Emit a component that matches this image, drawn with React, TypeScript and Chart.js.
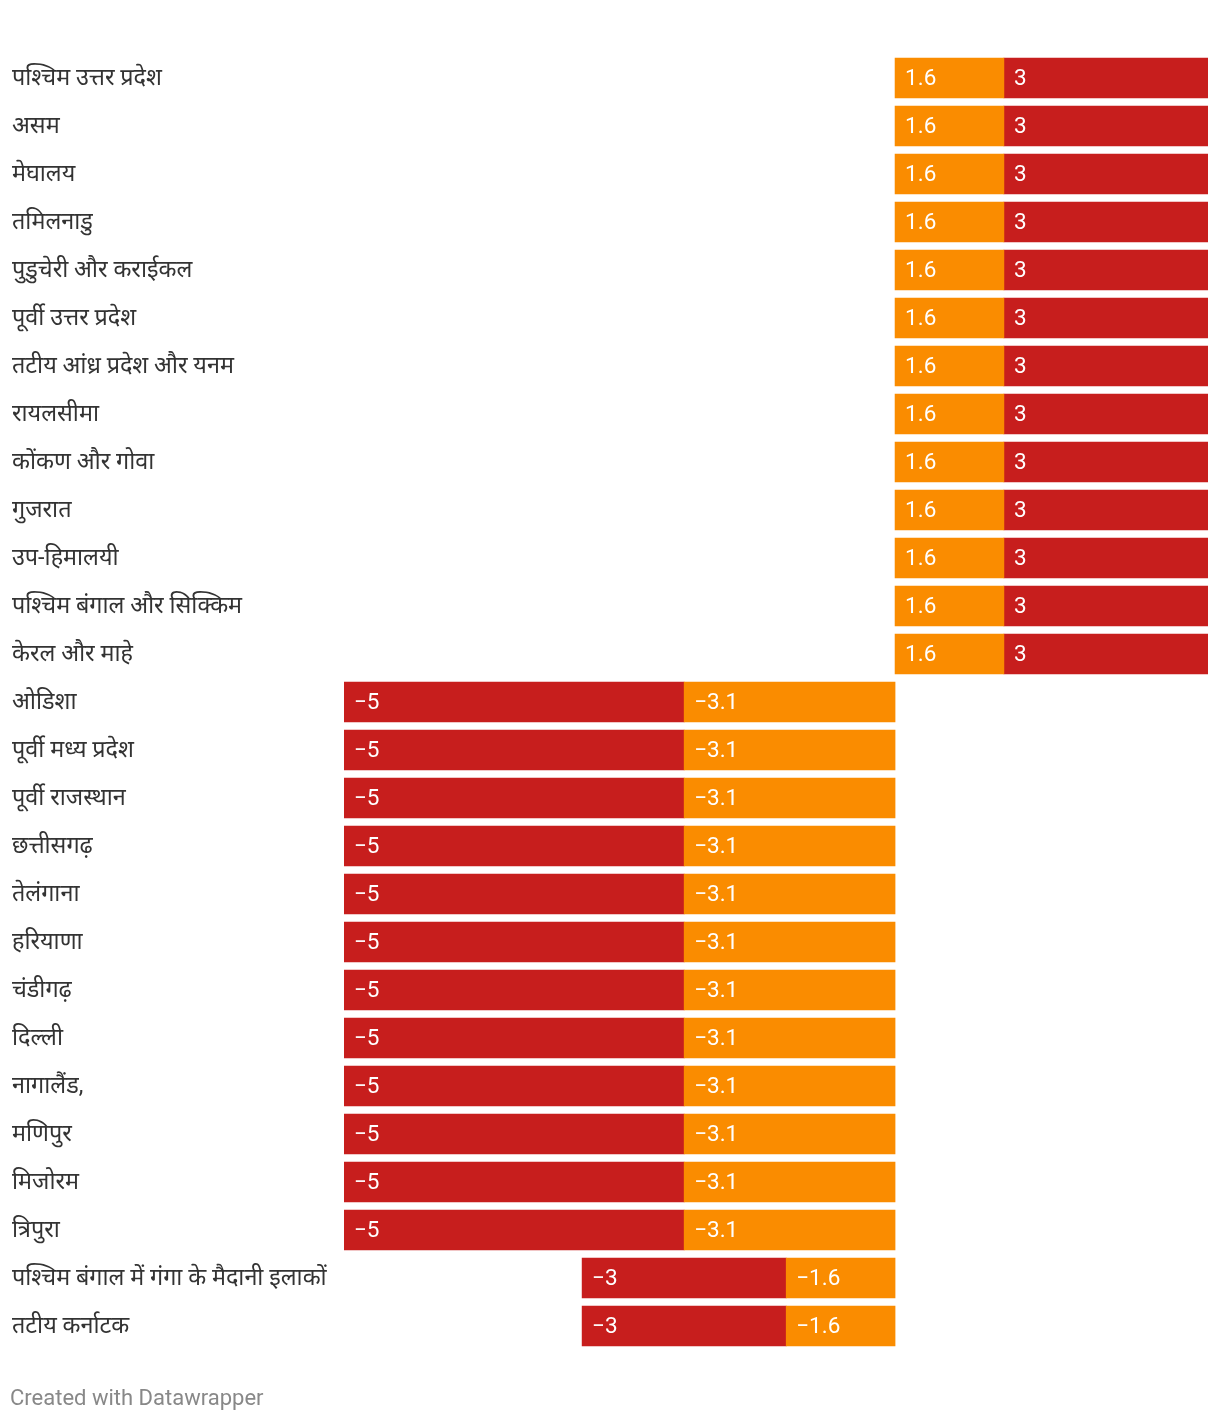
import React, { useEffect, useRef } from "react";
import { Chart, registerables } from "chart.js";

Chart.register(...registerables);

const categories: string[] = [
  "पश्चिम उत्तर प्रदेश",
  "असम",
  "मेघालय",
  "तमिलनाडु",
  "पुडुचेरी और कराईकल",
  "पूर्वी उत्तर प्रदेश",
  "तटीय आंध्र प्रदेश और यनम",
  "रायलसीमा",
  "कोंकण और गोवा",
  "गुजरात",
  "उप-हिमालयी",
  "पश्चिम बंगाल और सिक्किम",
  "केरल और माहे",
  "ओडिशा",
  "पूर्वी मध्य प्रदेश",
  "पूर्वी राजस्थान",
  "छत्तीसगढ़",
  "तेलंगाना",
  "हरियाणा",
  "चंडीगढ़",
  "दिल्ली",
  "नागालैंड,",
  "मणिपुर",
  "मिजोरम",
  "त्रिपुरा",
  "पश्चिम बंगाल में गंगा के मैदानी इलाकों",
  "तटीय कर्नाटक",
];

const orangeValues: number[] = [
  1.6, 1.6, 1.6, 1.6, 1.6, 1.6, 1.6, 1.6, 1.6, 1.6, 1.6, 1.6, 1.6,
  -3.1, -3.1, -3.1, -3.1, -3.1, -3.1, -3.1, -3.1, -3.1, -3.1, -3.1, -3.1,
  -1.6, -1.6,
];

const redValues: number[] = [
  3, 3, 3, 3, 3, 3, 3, 3, 3, 3, 3, 3, 3,
  -5, -5, -5, -5, -5, -5, -5, -5, -5, -5, -5, -5,
  -3, -3,
];

const ORANGE = "#fa8c00";
const RED = "#c71e1d";
const FONT = "Roboto, 'Noto Sans', sans-serif";

function fmt(v: number): string {
  return v < 0 ? "\u2212" + String(Math.abs(v)) : String(v);
}

const labelsPlugin = {
  id: "customLabels",
  afterDatasetsDraw(chart: any) {
    const ctx = chart.ctx;
    const yScale = chart.scales.y;
    ctx.save();
    // category labels
    ctx.font = `23.4px ${FONT}`;
    ctx.fillStyle = "#333333";
    ctx.textAlign = "left";
    ctx.textBaseline = "middle";
    categories.forEach((c, i) => {
      ctx.fillText(c, 12, yScale.getPixelForValue(i) + 1);
    });
    // value labels
    ctx.fillStyle = "#ffffff";
    ctx.font = `22.5px ${FONT}`;
    chart.data.datasets.forEach((ds: any, di: number) => {
      const meta = chart.getDatasetMeta(di);
      meta.data.forEach((bar: any, i: number) => {
        const v = ds.data[i];
        const left = Math.min(bar.x, bar.base);
        ctx.fillText(fmt(v), left + 10, bar.y + 1);
      });
    });
    // footer
    ctx.fillStyle = "#888888";
    ctx.font = `22px ${FONT}`;
    ctx.fillText("Created with Datawrapper", 10, 1399);
    ctx.restore();
  },
};

export default function App() {
  const canvasRef = useRef<HTMLCanvasElement | null>(null);

  useEffect(() => {
    document.body.style.margin = "0";
    const canvas = canvasRef.current;
    if (!canvas) return;
    const chart = new Chart(canvas, {
      type: "bar",
      data: {
        labels: categories,
        datasets: [
          {
            label: "orange",
            data: orangeValues,
            backgroundColor: ORANGE,
            borderWidth: 0,
            barThickness: 40,
          },
          {
            label: "red",
            data: redValues,
            backgroundColor: RED,
            borderWidth: 0,
            barThickness: 40,
          },
        ],
      },
      options: {
        indexAxis: "y",
        responsive: false,
        animation: false,
        layout: {
          padding: { left: 344, right: 12, top: 54, bottom: 72 },
        },
        plugins: {
          legend: { display: false },
          tooltip: { enabled: false },
        },
        scales: {
          x: {
            stacked: true,
            min: -8.1,
            max: 4.6,
            display: false,
          },
          y: {
            stacked: true,
            display: false,
          },
        },
      },
      plugins: [labelsPlugin],
    });
    return () => chart.destroy();
  }, []);

  return (
    <div style={{ width: 1220, height: 1422, background: "#fff" }}>
      <canvas ref={canvasRef} width={1220} height={1422} style={{ display: "block" }} />
    </div>
  );
}
